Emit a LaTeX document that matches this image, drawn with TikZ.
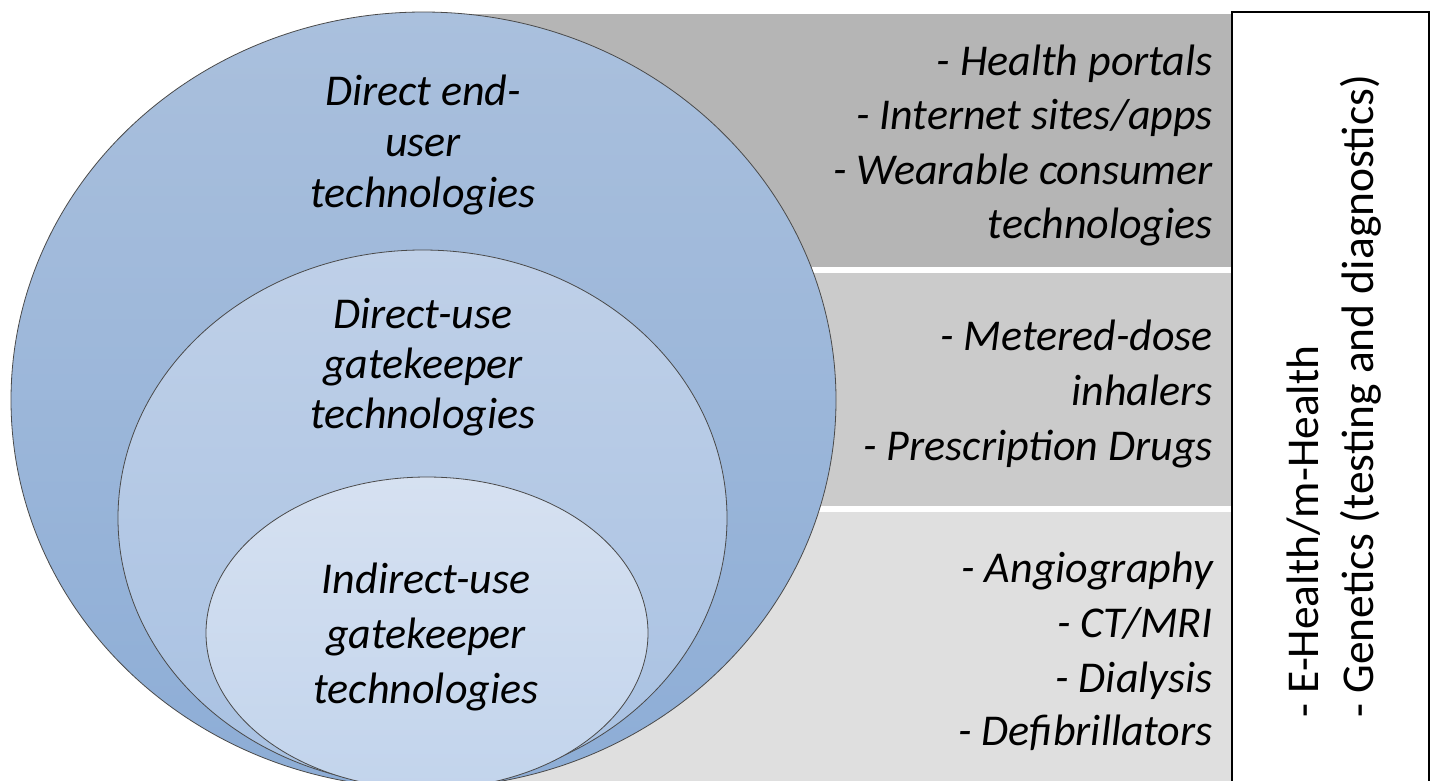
\documentclass[tikz,border=0pt]{standalone}
\usepackage{fontspec}
\setmainfont{Carlito}
\usetikzlibrary{shapes.geometric}
\definecolor{bandA}{HTML}{B5B5B5}
\definecolor{bandB}{HTML}{CBCBCB}
\definecolor{bandC}{HTML}{DFDFDF}
\definecolor{outT}{HTML}{AAC0DD}
\definecolor{outB}{HTML}{8DADD6}
\definecolor{midT}{HTML}{BFD0E8}
\definecolor{midB}{HTML}{A8C1E2}
\definecolor{inT}{HTML}{D6E1F1}
\definecolor{inB}{HTML}{C2D4EC}
\definecolor{rim}{HTML}{4A4A4A}
\tikzset{
  ring/.style={ellipse, draw=rim, line width=0.8pt, inner sep=0pt},
  lbl/.style={font=\fontsize{44}{54}\selectfont\itshape, inner sep=0pt, text=black},
  rlbl/.style={lbl, anchor=base east},
  clbl/.style={lbl, anchor=base},
  vlbl/.style={font=\fontsize{45.5}{55}\selectfont, inner sep=0pt, rotate=90, anchor=base west, text=black},
}
\begin{document}
\begin{tikzpicture}[x=1pt,y=-1pt]
\useasboundingbox (0,0) rectangle (1432,780);
% bands
\fill[bandA] (430,14) rectangle (1232,267);
\fill[bandB] (430,273) rectangle (1232,506);
\fill[bandC] (430,512) rectangle (1232,790);
% ellipses
\node[ring, top color=outT, bottom color=outB, minimum width=825pt, minimum height=776pt] (outer) at (423.5,400) {};
\node[ring, top color=midT, bottom color=midB, minimum width=609pt, minimum height=536pt] (middle) at (422.5,518) {};
\node[ring, top color=inT, bottom color=inB, minimum width=442pt, minimum height=312pt] (inner) at (427,633) {};
% right box
\draw[line width=2pt, fill=white] (1232,12) -- (1429,12) -- (1429,795) -- (1232,795) -- cycle;
% ellipse labels
\node[clbl] (o1) at (423,105) {Direct end-};
\node[clbl] (o2) at (423,156) {user};
\node[clbl] (o3) at (423,207) {technologies};
\node[clbl] (m1) at (423,328) {Direct-use};
\node[clbl] (m2) at (423,378) {gatekeeper};
\node[clbl] (m3) at (423,428) {technologies};
\node[clbl] (i1) at (426,593) {Indirect-use};
\node[clbl] (i2) at (426,648) {gatekeeper};
\node[clbl] (i3) at (426,703) {technologies};
% band labels
\node[rlbl] (a1) at (1213,75) {- Health portals};
\node[rlbl] (a2) at (1213,129) {- Internet sites/apps};
\node[rlbl] (a3) at (1213,184) {- Wearable consumer};
\node[rlbl] (a4) at (1213,238) {technologies};
\node[rlbl] (b1) at (1213,350) {- Metered-dose};
\node[rlbl] (b2) at (1213,405) {inhalers};
\node[rlbl] (b3) at (1213,460) {- Prescription Drugs};
\node[rlbl] (c1) at (1213,582) {- Angiography};
\node[rlbl] (c2) at (1213,637) {- CT/MRI};
\node[rlbl] (c3) at (1213,692) {- Dialysis};
\node[rlbl] (c4) at (1213,745) {- Defibrillators};
% vertical labels
\node[vlbl] (v1) at (1318,718) {- E-Health/m-Health};
\node[vlbl] (v2) at (1373,718) {- Genetics (testing and diagnostics)};
\end{tikzpicture}
\end{document}
